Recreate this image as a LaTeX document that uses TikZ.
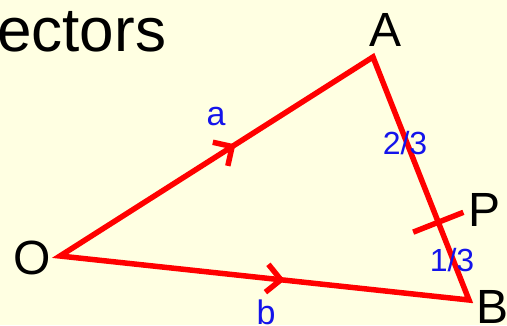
\documentclass[tikz,border=0pt]{standalone}
\usepackage{fontspec}
\setmainfont{Liberation Sans}
\usetikzlibrary{calc,decorations.markings}
\definecolor{bgyellow}{RGB}{255,255,226}
\definecolor{vred}{RGB}{255,0,0}
\definecolor{lblue}{RGB}{20,20,235}
\tikzset{
  vec/.style={draw=vred, line width=5.5pt, line join=miter},
  chev/.style={postaction={decorate}, decoration={markings,
    mark=at position #1 with {\draw[vred, line width=5.5pt, line join=miter] (-14pt,14pt) -- (0,0) -- (-14pt,-14pt);}}},
  ptlabel/.style={font=\fontsize{48}{48}\selectfont, text=black, inner sep=0pt},
  vlabel/.style={font=\fontsize{34}{34}\selectfont, text=lblue, inner sep=0pt},
  frlabel/.style={font=\fontsize{32}{32}\selectfont, text=lblue, inner sep=0pt},
}
\begin{document}
\begin{tikzpicture}[x=1pt,y=-1pt]
\fill[bgyellow] (0,0) rectangle (507,325);
\useasboundingbox (0,0) rectangle (507,325);
\node[anchor=base west, inner sep=0pt, font=\fontsize{62}{62}\selectfont] (title) at (-3,51) {ectors};
\coordinate (O) at (60,256);
\coordinate (A) at (373,57);
\coordinate (B) at (469,300);
\coordinate (P) at ($(A)!.68!(B)$);
\draw[vec] (O) -- (A) -- (B) -- cycle;
\path[chev=.55] (O) -- (A);
\path[chev=.54] (O) -- (B);
\draw[vred, line width=5.5pt] ($(P)!27pt!90:(B)$) -- ($(P)!27pt!-90:(B)$);
\node[ptlabel] (lO) at (32,258) {O};
\node[ptlabel] (lA) at (386,30) {A};
\node[ptlabel] (lP) at (485,210) {P};
\node[ptlabel, anchor=north west] (lB) at (476,290) {B};
\node[vlabel] (la) at (216,117) {a};
\node[vlabel] (lb) at (266,312) {b};
\node[frlabel] (l23) at (405,143) {2/3};
\node[frlabel] (l13) at (452,260) {1/3};
\end{tikzpicture}
\end{document}
